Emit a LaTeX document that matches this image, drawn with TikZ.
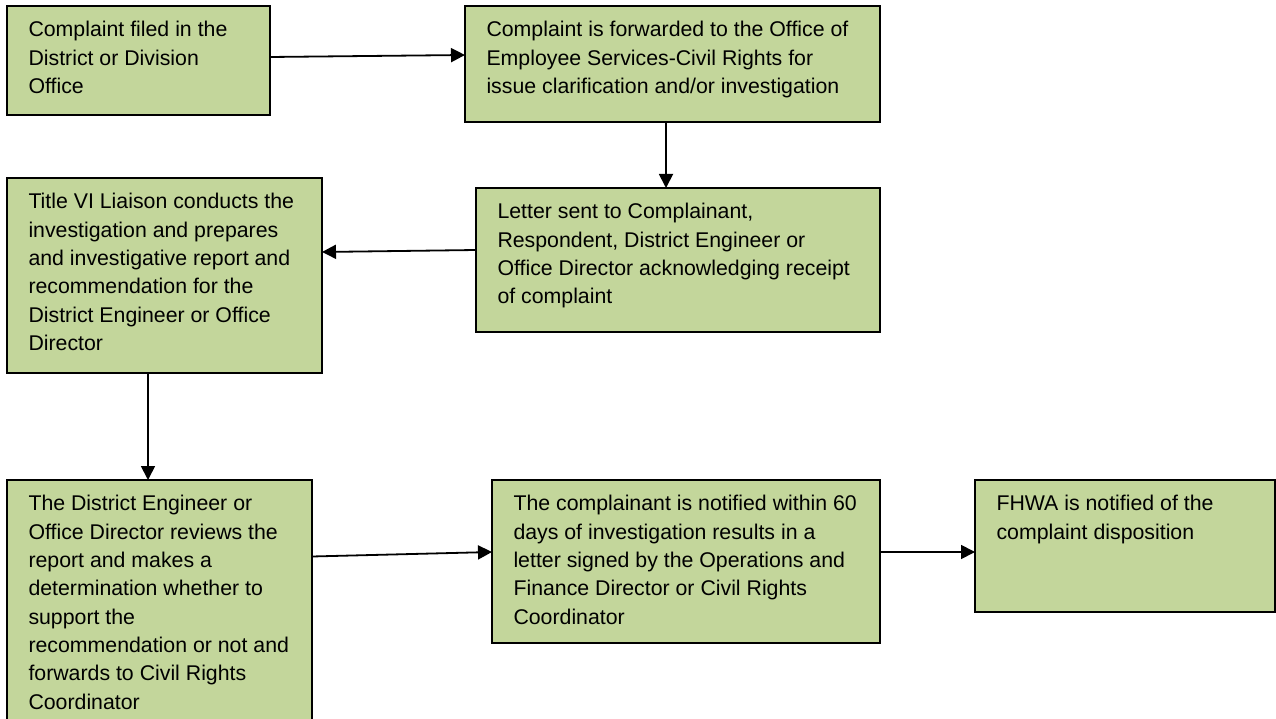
\documentclass[tikz,border=0pt]{standalone}
\usepackage{fontspec}
\setmainfont{Liberation Sans}
\usetikzlibrary{arrows.meta}
\definecolor{boxgreen}{HTML}{C3D69B}
\newcommand{\bxt}[3]{\parbox[c][\dimexpr #2pt-31pt\relax][t]{\dimexpr #1pt-43pt\relax}{\raggedright\hfuzz=20pt #3}}
\tikzset{
  flowbox/.style={draw=black, line width=1.8pt, fill=boxgreen, anchor=north west,
    inner xsep=21.5pt, inner ysep=15.5pt, outer sep=0pt,
    font=\fontsize{21.3pt}{28.3pt}\selectfont},
  flowarrow/.style={draw=black, line width=1.8pt, -{Triangle[length=14pt,width=14pt]}}
}
\begin{document}
\begin{tikzpicture}[x=1pt,y=-1pt]
\useasboundingbox (0,0) rectangle (1276,719);
\node[flowbox] (b1) at (7,6) {\bxt{263}{109}{Complaint filed in the\\District or Division\\Office}};
\node[flowbox] (b2) at (465,6) {\bxt{415}{116}{Complaint is forwarded to the Office of\\Employee Services-Civil Rights for\\issue clarification and/or investigation}};
\node[flowbox] (b3) at (476,188) {\bxt{404}{144}{Letter sent to Complainant,\\Respondent, District Engineer or\\Office Director acknowledging receipt\\of complaint}};
\node[flowbox] (b4) at (7,178) {\bxt{315}{195}{Title VI Liaison conducts the\\investigation and prepares\\and investigative report and\\recommendation for the\\District Engineer or Office\\Director}};
\node[flowbox] (b5) at (7,480) {\bxt{305}{250}{The District Engineer or\\Office Director reviews the\\report and makes a\\determination whether to\\support the\\recommendation or not and\\forwards to Civil Rights\\Coordinator}};
\node[flowbox] (b6) at (492,480) {\bxt{388}{163}{The complainant is notified within 60\\days of investigation results in a\\letter signed by the Operations and\\Finance Director or Civil Rights\\Coordinator}};
\node[flowbox] (b7) at (975,480) {\bxt{300}{132}{FHWA is notified of the\\complaint disposition}};
\draw[flowarrow] ([yshift=3.5pt]b1.east) -- ([yshift=9pt]b2.west);
\draw[flowarrow] ([xshift=-6.5pt]b2.south) -- ([xshift=-12pt]b3.north);
\draw[flowarrow] ([yshift=10pt]b3.west) -- ([yshift=23.5pt]b4.east);
\draw[flowarrow] ([xshift=-16.5pt]b4.south) -- ([xshift=-11.5pt]b5.north);
\draw[flowarrow] ([yshift=48.5pt]b5.east) -- ([yshift=9.5pt]b6.west);
\draw[flowarrow] ([yshift=9.5pt]b6.east) -- ([yshift=-6pt]b7.west);
\end{tikzpicture}
\end{document}
